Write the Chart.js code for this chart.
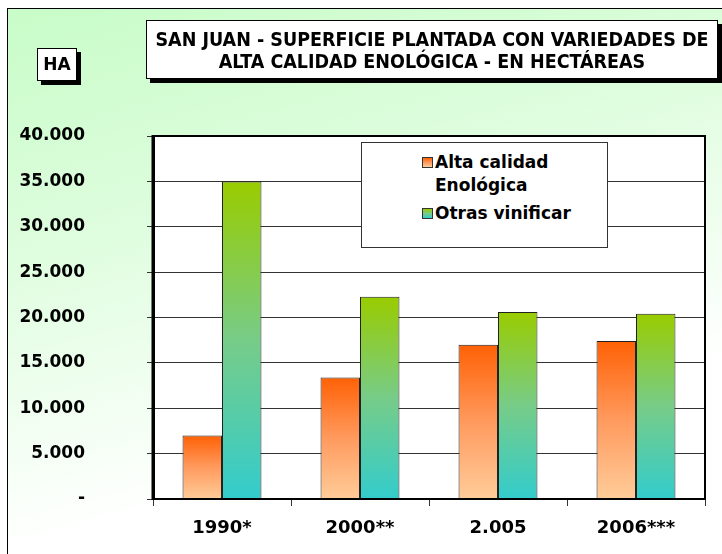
<!DOCTYPE html>
<html>
<head>
<meta charset="utf-8">
<script src="https://cdn.jsdelivr.net/npm/chart.js@4.4.1/dist/chart.umd.min.js"></script>
<style>
  html, body { margin: 0; padding: 0; background: #fff; }
  #wrap { position: relative; width: 722px; height: 554px; overflow: hidden; }
  #frame {
    position: absolute; left: 7px; top: 8px; width: 740px; height: 560px;
    border: 1px solid #000;
    background: linear-gradient(165deg, #c8fcc8 0%, #dcfddc 30%, #ffffff 72%);
  }
  #chart { position: absolute; left: 0; top: 0; }
  .box {
    position: absolute; background: #fff; border: 1px solid #000;
    box-shadow: 4px 4px 0 #000; color: #000; text-align: center;
  }
  #title {
    left: 146px; top: 20px; width: 572px; height: 59px;
    font: bold 19.5px "DejaVu Sans Condensed", "Liberation Sans Narrow", "DejaVu Sans", sans-serif;
    line-height: 22px; padding-top: 8px; box-sizing: border-box; white-space: nowrap;
  }
  #ha {
    left: 37px; top: 48px; width: 40px; height: 33px; box-sizing: border-box;
    font: bold 17px "DejaVu Sans", sans-serif; line-height: 31px;
  }
  #legend {
    position: absolute; left: 361px; top: 142px; width: 247px; height: 106px;
    box-sizing: border-box; background: #fff; border: 1px solid #333;
    font: bold 17px "DejaVu Sans", sans-serif; color: #000;
  }
  .item { position: absolute; left: 60px; }
  .sw { position: absolute; left: 0; width: 9px; height: 9px; border: 1px solid #333; }
  .txt { position: absolute; left: 13px; white-space: nowrap; line-height: 23px; }
</style>
</head>
<body>
<div id="wrap">
  <div id="frame"></div>
  <canvas id="chart" width="722" height="554"></canvas>
  <div id="title" class="box">SAN JUAN - SUPERFICIE PLANTADA CON VARIEDADES DE<br>ALTA CALIDAD ENOLÓGICA - EN HECTÁREAS</div>
  <div id="ha" class="box">HA</div>
  <div id="legend"></div>
</div>
<script>
const categories = ['1990*', '2000**', '2.005', '2006***'];
const altaCalidad = [7000, 13400, 17000, 17400];
const otrasVinificar = [35000, 22300, 20600, 20400];
const seriesNames = ['Alta calidad\nEnológica', 'Otras vinificar'];
const yMax = 40000;
const yStep = 5000;

const orangeStops = ['#ff6105', '#ff9a5e', '#ffcc99'];
const greenStops = ['#99cc00', '#77cc88', '#33cccc'];

function barGradient(ctx, stops) {
    const chart = ctx.chart;
    if (!chart.chartArea || ctx.parsed === undefined) return stops[0];
    const y = chart.scales.y;
    const top = y.getPixelForValue(ctx.parsed.y);
    const bottom = y.getPixelForValue(0);
    const g = chart.ctx.createLinearGradient(0, top, 0, bottom);
    g.addColorStop(0, stops[0]);
    g.addColorStop(0.5, stops[1]);
    g.addColorStop(1, stops[2]);
    return g;
}

function formatTick(v) {
    if (v === 0) return '-';
    return v.toLocaleString('de-DE', {minimumFractionDigits: 0});
}

const plotBackground = {
    id: 'plotBackground',
    beforeDraw(chart) {
        const a = chart.chartArea;
        chart.ctx.save();
        chart.ctx.fillStyle = '#fff';
        chart.ctx.fillRect(a.left, a.top, a.right - a.left, a.bottom - a.top);
        chart.ctx.restore();
    },
    afterDraw(chart) {
        const a = chart.chartArea;
        const c = chart.ctx;
        c.save();
        c.strokeStyle = '#000';
        c.lineWidth = 2;
        c.strokeRect(a.left, a.top, a.right - a.left, a.bottom - a.top);
        c.lineWidth = 3;
        c.beginPath();
        c.moveTo(a.left, a.top - 1);
        c.lineTo(a.left, a.bottom + 1);
        c.stroke();
        c.restore();
    }
};

new Chart(document.getElementById('chart'), {
    type: 'bar',
    data: {
        labels: categories,
        datasets: [
            {
                label: seriesNames[0],
                data: altaCalidad,
                backgroundColor: (ctx) => barGradient(ctx, orangeStops),
                borderColor: '#222',
                borderWidth: 1,
                categoryPercentage: 0.572,
                barPercentage: 1
            },
            {
                label: seriesNames[1],
                data: otrasVinificar,
                backgroundColor: (ctx) => barGradient(ctx, greenStops),
                borderColor: '#222',
                borderWidth: 1,
                categoryPercentage: 0.572,
                barPercentage: 1
            }
        ]
    },
    options: {
        responsive: false,
        animation: false,
        layout: { padding: { top: 136, right: 17, bottom: 15, left: 0 } },
        plugins: {
            legend: { display: false },
            tooltip: { enabled: false }
        },
        scales: {
            x: {
                grid: { offset: true, drawOnChartArea: false, tickLength: 7, color: '#333' },
                border: { color: '#000', width: 2 },
                ticks: {
                    color: '#000',
                    padding: 12,
                    font: { family: 'DejaVu Sans', size: 18, weight: 'bold' }
                },
                afterFit(scale) { scale.height = 40; }
            },
            y: {
                min: 0,
                max: yMax,
                grid: { color: '#333', lineWidth: 1, tickLength: 6 },
                border: { color: '#000', width: 3 },
                ticks: {
                    stepSize: yStep,
                    color: '#000',
                    padding: 62,
                    font: { family: 'DejaVu Sans', size: 17, weight: 'bold' },
                    callback: (v) => formatTick(v)
                },
                afterFit(scale) {
                    // label gap is wide; keep it from eating vertical room
                    scale.width = 153;
                    scale.paddingTop = 10;
                    scale.paddingBottom = 10;
                }
            }
        }
    },
    plugins: [plotBackground]
});

// html legend
const legendItems = [
    { text: seriesNames[0], stops: orangeStops, top: 8 },
    { text: seriesNames[1], stops: greenStops, top: 59 }
];
const legendEl = document.getElementById('legend');
for (const it of legendItems) {
    const item = document.createElement('div');
    item.className = 'item';
    item.style.top = it.top + 'px';
    const sw = document.createElement('div');
    sw.className = 'sw';
    sw.style.top = '6px';
    sw.style.background = 'linear-gradient(' + it.stops.join(',') + ')';
    const txt = document.createElement('div');
    txt.className = 'txt';
    txt.innerHTML = it.text.replace('\n', '<br>');
    item.appendChild(sw);
    item.appendChild(txt);
    legendEl.appendChild(item);
}
</script>
</body>
</html>
